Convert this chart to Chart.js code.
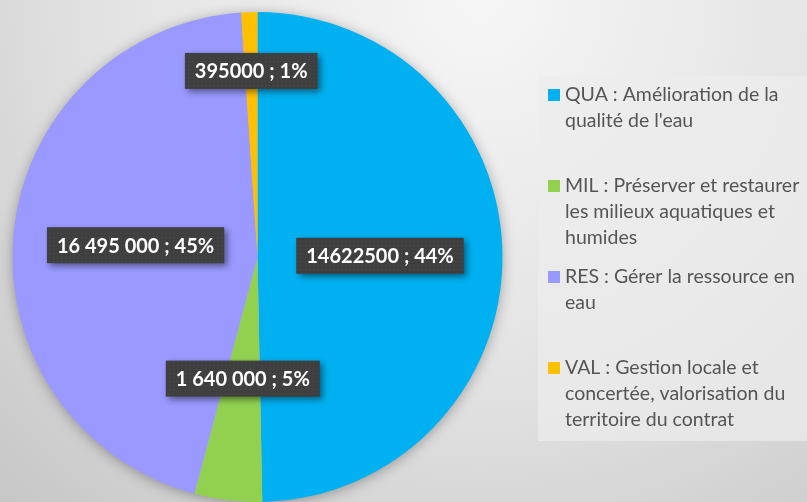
<!DOCTYPE html>
<html>
<head>
<meta charset="utf-8">
<script src="https://cdn.jsdelivr.net/npm/chart.js@4/dist/chart.umd.min.js"></script>
<style>
  html, body { margin: 0; padding: 0; background: #dcdcdc; }
  #wrap { width: 807px; height: 502px; }
</style>
</head>
<body>
<div id="wrap"><canvas id="myChart" width="807" height="502"></canvas></div>
<script>
// categories + legend wording
var categories = ['QUA', 'MIL', 'RES', 'VAL'];
var legendLines = [
    ['QUA : Amélioration de la', "qualité de l'eau"],
    ['MIL : Préserver et restaurer', 'les milieux aquatiques et', 'humides'],
    ['RES : Gérer la ressource en', 'eau'],
    ['VAL : Gestion locale et', 'concertée, valorisation du', 'territoire du contrat']
];
// slice sizes (the QUA slice is drawn at about half the pie)
var sliceValues = [18300000, 1640000, 16495000, 395000];
// data label texts as printed on the chart
var labelTexts = ['14622500 ; 44%', '1 640 000 ; 5%', '16 495 000 ; 45%', '395000 ; 1%'];
var sliceColors = ['#00B0F0', '#92D050', '#9999FF', '#FFC000'];

function dotPattern(ctx) {
    var c = document.createElement('canvas');
    c.width = 4; c.height = 4;
    var p = c.getContext('2d');
    p.fillStyle = '#3f3f3f';
    p.fillRect(0, 0, 4, 4);
    p.fillStyle = '#4b4b4b';
    p.fillRect(1, 1, 1, 1);
    return ctx.createPattern(c, 'repeat');
}

var decor = {
    id: 'decor',
    beforeDraw: function (chart) {
        var ctx = chart.ctx;
        var g = ctx.createRadialGradient(480, 0, 0, 480, 0, 700);
        g.addColorStop(0, '#f6f6f6');
        g.addColorStop(0.55, '#e2e2e2');
        g.addColorStop(1, '#c6c6c6');
        ctx.save();
        ctx.fillStyle = g;
        ctx.fillRect(0, 0, chart.width, chart.height);
        ctx.restore();
    },
    beforeDatasetsDraw: function (chart) {
        // soft shadow under the whole pie
        var arc = chart.getDatasetMeta(0).data[0];
        var ctx = chart.ctx;
        ctx.save();
        ctx.shadowColor = 'rgba(0,0,0,0.35)';
        ctx.shadowBlur = 14;
        ctx.shadowOffsetY = 2;
        ctx.fillStyle = '#bbbbbb';
        ctx.beginPath();
        ctx.arc(arc.x, arc.y, arc.outerRadius - 1, 0, Math.PI * 2);
        ctx.fill();
        ctx.restore();
    },
    afterDatasetsDraw: function (chart) {
        var ctx = chart.ctx;
        var meta = chart.getDatasetMeta(0);
        var pat = dotPattern(ctx);
        ctx.save();
        ctx.font = 'bold 20px Lato';
        ctx.textAlign = 'center';
        ctx.textBaseline = 'middle';
        meta.data.forEach(function (arc, i) {
            var pos;
            var span = arc.endAngle - arc.startAngle;
            if (span < 0.2) {
                var mid = (arc.startAngle + arc.endAngle) / 2;
                pos = { x: arc.x + Math.cos(mid) * arc.outerRadius * 0.76,
                        y: arc.y + Math.sin(mid) * arc.outerRadius * 0.76 };
            } else {
                pos = arc.getCenterPoint();
            }
            var txt = labelTexts[i];
            var w = ctx.measureText(txt).width + 20;
            var h = 36;
            ctx.save();
            ctx.shadowColor = 'rgba(0,0,0,0.45)';
            ctx.shadowBlur = 6;
            ctx.shadowOffsetX = 3;
            ctx.shadowOffsetY = 3;
            ctx.fillStyle = pat;
            ctx.fillRect(pos.x - w / 2, pos.y - h / 2, w, h);
            ctx.restore();
            ctx.fillStyle = '#ffffff';
            ctx.fillText(txt, pos.x, pos.y + 1);
        });
        ctx.restore();
    },
    afterDraw: function (chart) {
        var ctx = chart.ctx;
        var area = chart.chartArea;
        var bx = area.right + 35, by = 76;
        ctx.save();
        ctx.fillStyle = 'rgba(236,236,236,0.7)';
        ctx.fillRect(bx, by, chart.width - bx, 365);
        ctx.font = '19.5px Lato';
        ctx.textBaseline = 'middle';
        ctx.textAlign = 'left';
        legendLines.forEach(function (lines, i) {
            var y0 = 95 + i * 91;
            ctx.fillStyle = sliceColors[i];
            ctx.fillRect(bx + 10, y0 - 6, 12, 12);
            ctx.fillStyle = '#555555';
            lines.forEach(function (line, k) {
                ctx.fillText(line, bx + 27, y0 + k * 26);
            });
        });
        ctx.restore();
    }
};

var ctx = document.getElementById('myChart').getContext('2d');
var chart = new Chart(ctx, {
    type: 'pie',
    data: {
        labels: categories,
        datasets: [{
            data: sliceValues,
            backgroundColor: sliceColors,
            borderWidth: 0
        }]
    },
    options: {
        responsive: false,
        animation: false,
        layout: { padding: { left: 12, top: 12, right: 304, bottom: 0 } },
        plugins: {
            legend: { display: false },
            tooltip: { enabled: false }
        }
    },
    plugins: [decor]
});
</script>
</body>
</html>
